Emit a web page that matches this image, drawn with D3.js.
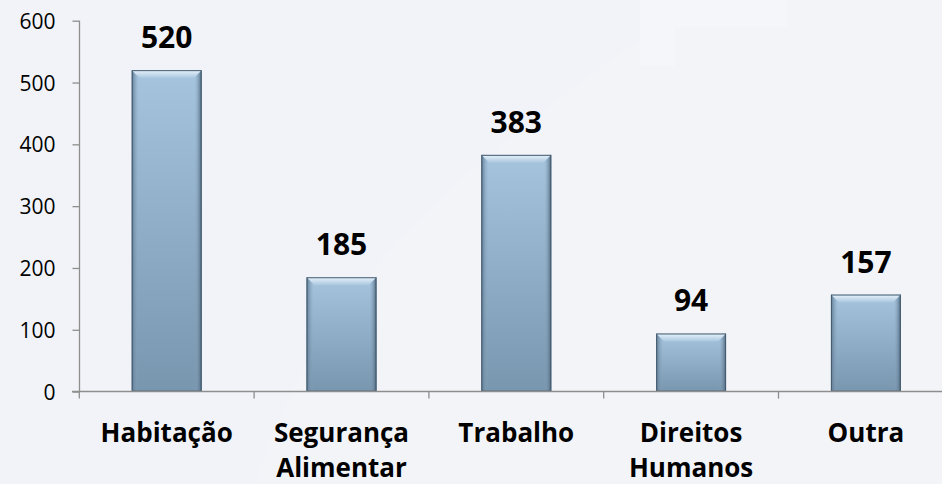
<!DOCTYPE html>
<html>
<head>
<meta charset="utf-8">
<script src="https://cdn.jsdelivr.net/npm/d3@7"></script>
<style>
  html, body { margin: 0; padding: 0; background: #f2f3f8; }
  svg { display: block; }
</style>
</head>
<body>
<svg id="chart" width="942" height="484"></svg>
<script>
const categories = ["Habitação", "Segurança Alimentar", "Trabalho", "Direitos Humanos", "Outra"];
const categoryLines = [["Habitação"], ["Segurança", "Alimentar"], ["Trabalho"], ["Direitos", "Humanos"], ["Outra"]];
const values = [520, 185, 383, 94, 157];
const yTicks = [0, 100, 200, 300, 400, 500, 600];

const W = 942, H = 484;
const svg = d3.select("#chart");

// background
svg.append("rect").attr("width", W).attr("height", H).attr("fill", "#f2f3f8");
svg.append("path")
  .attr("d", "M 255 484 C 300 330, 420 180, 700 0 L 942 0 L 942 484 Z")
  .attr("fill", "#f4f4f8").attr("opacity", 0.7);
svg.append("rect").attr("x", 640).attr("y", 0).attr("width", 147).attr("height", 27).attr("fill", "#f4f6fa");
svg.append("rect").attr("x", 640).attr("y", 27).attr("width", 35).attr("height", 39).attr("fill", "#f4f6fa");

const defs = svg.append("defs");
const gMain = defs.append("linearGradient").attr("id", "barMain").attr("x1", 0).attr("y1", 0).attr("x2", 0).attr("y2", 1);
gMain.append("stop").attr("offset", "0%").attr("stop-color", "#a6c4de");
gMain.append("stop").attr("offset", "100%").attr("stop-color", "#7996af");
const gTop = defs.append("linearGradient").attr("id", "barTop").attr("x1", 0).attr("y1", 0).attr("x2", 0).attr("y2", 1);
gTop.append("stop").attr("offset", "0%").attr("stop-color", "#e8f3fc");
gTop.append("stop").attr("offset", "100%").attr("stop-color", "#a9c6de");
const gSideL = defs.append("linearGradient").attr("id", "barSideL").attr("x1", 0).attr("y1", 0).attr("x2", 1).attr("y2", 0);
gSideL.append("stop").attr("offset", "0%").attr("stop-color", "#5d7890");
gSideL.append("stop").attr("offset", "100%").attr("stop-color", "#8eabc4").attr("stop-opacity", 0);
const gSideR = defs.append("linearGradient").attr("id", "barSideR").attr("x1", 1).attr("y1", 0).attr("x2", 0).attr("y2", 0);
gSideR.append("stop").attr("offset", "0%").attr("stop-color", "#4c6579");
gSideR.append("stop").attr("offset", "100%").attr("stop-color", "#8eabc4").attr("stop-opacity", 0);

const x = d3.scaleBand()
  .domain(categories)
  .range([79.3, 79.3 + 5 * 174.8])
  .paddingInner(0.6)
  .paddingOuter(0.3);

const y = d3.scaleLinear().domain([0, 600]).range([391.6, 20.7]);

// y axis
const yAxis = svg.append("g")
  .attr("transform", "translate(79.5,0)")
  .call(d3.axisLeft(y).tickValues(yTicks).tickSize(7).tickPadding(17).tickFormat(d3.format("d")));
yAxis.select(".domain").attr("stroke", "#8e8e8e").attr("stroke-width", 1.3).attr("d", `M0,${y(600)}V${y(0)}`);
yAxis.selectAll(".tick line").attr("stroke", "#8e8e8e").attr("stroke-width", 1.3);
yAxis.selectAll(".tick text")
  .attr("fill", "#000")
  .style("font-family", "'Open Sans', sans-serif")
  .style("font-size", "21px")
  .attr("dy", "0.36em");

// bars
const bw = x.bandwidth();
const bev = 8;
const bars = svg.append("g").selectAll("g.bar").data(values).join("g").attr("class", "bar");
bars.each(function(v, i) {
  const g = d3.select(this);
  const x0 = x(categories[i]);
  const y0 = y(v), y1 = y(0);
  const h = y1 - y0;
  g.append("rect").attr("x", x0).attr("y", y0).attr("width", bw).attr("height", h).attr("fill", "url(#barMain)");
  g.append("rect").attr("x", x0).attr("y", y0).attr("width", 7).attr("height", h).attr("fill", "url(#barSideL)");
  g.append("rect").attr("x", x0 + bw - 7).attr("y", y0).attr("width", 7).attr("height", h).attr("fill", "url(#barSideR)");
  g.append("path")
    .attr("d", `M${x0},${y0}L${x0 + bw},${y0}L${x0 + bw - bev},${y0 + bev}L${x0 + bev},${y0 + bev}Z`)
    .attr("fill", "url(#barTop)");
  g.append("rect").attr("x", x0 + 0.5).attr("y", y0 + 0.5).attr("width", bw - 1).attr("height", h - 1)
    .attr("fill", "none").attr("stroke", "#445b6e").attr("stroke-width", 1);
});

// x axis
const xStart = x.range()[0];
svg.append("line")
  .attr("x1", 72).attr("x2", W).attr("y1", y(0)).attr("y2", y(0))
  .attr("stroke", "#8e8e8e").attr("stroke-width", 1.5);
const boundaries = d3.range(categories.length + 1).map(i => xStart + i * x.step());
svg.append("g").selectAll("line").data(boundaries).join("line")
  .attr("x1", d => d).attr("x2", d => d)
  .attr("y1", y(0)).attr("y2", y(0) + 7)
  .attr("stroke", "#8e8e8e").attr("stroke-width", 1.3);

// value labels
svg.append("g").selectAll("text").data(values).join("text")
  .attr("x", (d, i) => x(categories[i]) + bw / 2)
  .attr("y", d => y(d) - 22)
  .attr("text-anchor", "middle")
  .style("font-family", "'Open Sans', sans-serif")
  .style("font-weight", "bold")
  .style("font-size", "30px")
  .attr("fill", "#000")
  .text(d => d);

// category labels
const cat = svg.append("g").selectAll("text").data(categories).join("text")
  .attr("text-anchor", "middle")
  .style("font-family", "'Open Sans', sans-serif")
  .style("font-weight", "bold")
  .style("font-size", "26px")
  .attr("fill", "#000");
cat.each(function(c, i) {
  const t = d3.select(this);
  categoryLines[i].forEach((ln, j) => {
    t.append("tspan")
      .attr("x", x(c) + bw / 2)
      .attr("y", 442 + j * 35)
      .text(ln);
  });
});
</script>
</body>
</html>
